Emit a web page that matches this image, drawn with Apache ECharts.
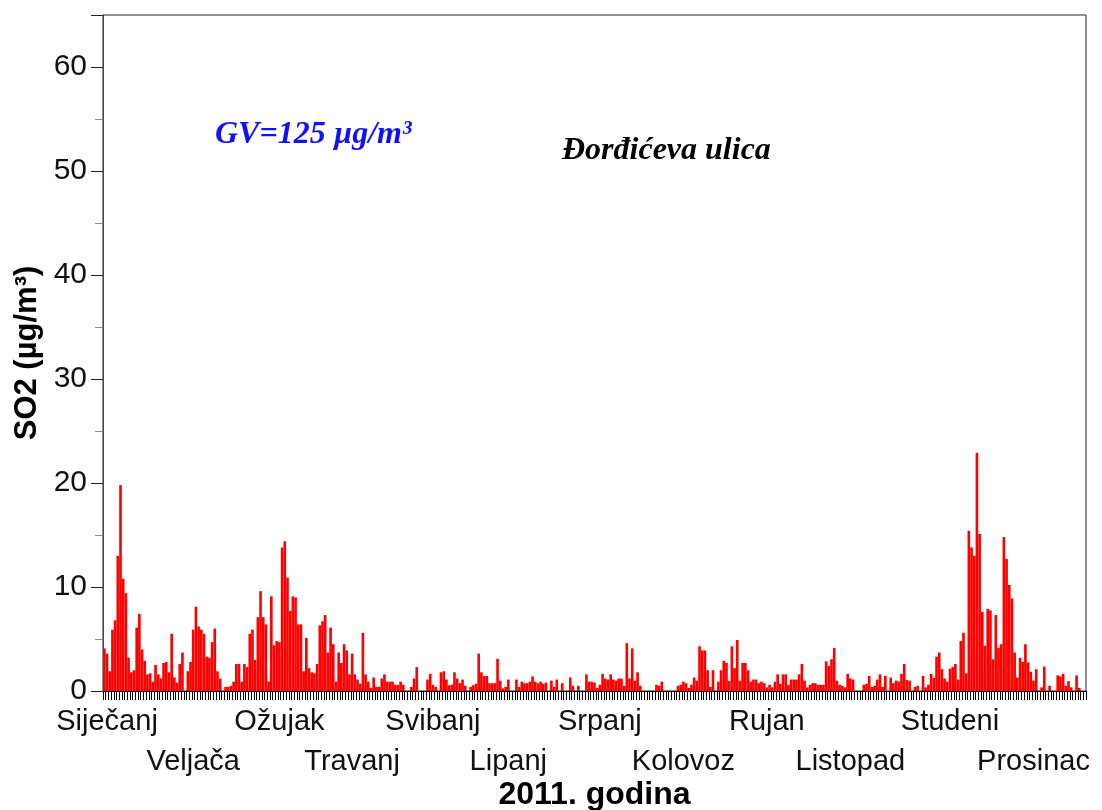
<!DOCTYPE html>
<html><head><meta charset="utf-8">
<script src="https://cdn.jsdelivr.net/npm/echarts@6/dist/echarts.min.js"></script>
<style>html,body{margin:0;padding:0;background:#fff}#c{width:1102px;height:810px}</style>
</head><body><div id="c"></div>
<script>
// Month tick labels (Croatian) and the day index each label is anchored to
const monthNames = ['Siječanj','Veljača','Ožujak','Travanj','Svibanj','Lipanj','Srpanj','Kolovoz','Rujan','Listopad','Studeni','Prosinac'];
const monthLabelDay = [1,33,65,92,122,150,184,215,246,277,314,345];
const yTicks = [0,10,20,30,40,50,60];

// Daily SO2 (µg/m³), 2011
const so2JanApr = [
 4.1,3.6,1.9,5.9,6.8,13.0,19.8,10.8,9.4,3.2,
 1.8,2.0,6.1,7.4,4.0,2.9,1.6,1.7,0.9,2.5,
 1.6,1.2,2.7,2.8,1.8,5.5,1.3,0.8,2.6,3.7,
 0,1.9,2.8,5.9,8.1,6.2,5.9,5.5,3.3,3.2,
 4.7,6.0,1.9,1.2,0,0.4,0.4,0.5,0.9,2.6,
 2.6,0.9,2.6,2.3,5.5,5.9,3.0,7.1,9.6,7.1,
 6.4,0.9,9.1,4.4,4.8,4.7,13.8,14.4,10.9,7.7,
 9.1,9.0,6.4,6.4,1.9,5.1,2.2,1.8,1.7,2.6,
 6.3,6.7,7.3,3.7,6.1,4.5,0.9,3.7,2.7,4.5,
 3.9,1.6,3.6,1.6,1.1,0.7,5.6,1.6,0.9,0.3,
 1.3,0.4,0.4,1.2,1.6,0.9,0.9,0.9,0.6,0.6,
 0.9,0.6,0,0,0.4,1.2,2.3,0,0,0,1.1
];
const so2MayAug = [
 1.65,0.6,0.4,0,1.8,1.9,1.1,0.55,0.6,1.8,
 1.2,0.75,1.1,0.5,0,0.4,0.55,0.7,3.6,1.8,
 1.45,1.45,0.75,0.75,0.75,3.1,1.0,0.25,0.4,1.1,
 0,0,1.1,0.4,0.9,0.75,0.75,0.9,1.4,0.9,
 0.75,0.9,0.7,0.8,0,1.0,0.4,1.1,0,0.75,
 0,0,1.3,0.5,0,0.5,0,0,1.6,0.9,
 0.9,0.8,0.3,0.6,1.65,1.2,1.1,1.6,1.1,1.0,
 1.2,1.2,0.5,4.6,1.2,4.1,1.0,1.8,0.5,0,
 0,0,0,0,0.6,0.5,0.9,0,0,0,
 0,0,0.5,0.6,0.9,0.75,0.3,0.6,1.3,1.0,
 4.3,3.9,3.9,2.0,0.4,2.0,0,0.9,2.0,2.9,
 2.7,0.95,4.3,2.2,4.9,1.0,2.7,2.7,2.0,0.9,
 1.1,1.1
];
const so2SepDec = [
 0.75,0.9,0.75,0.35,0.6,0.35,0.9,1.6,0.7,1.6,
 1.6,0.6,1.1,1.1,1.1,1.6,2.6,1.0,0.35,0.6,
 0.75,0.75,0.6,0.6,0.6,2.85,2.4,3.05,4.15,1.0,
 0.6,0.5,0.35,1.65,1.2,1.1,0,0,0,0.6,
 0.7,1.45,0.4,0.5,1.1,1.6,0.4,1.45,0,1.3,
 0.75,1.0,0.9,1.65,2.6,1.05,1.0,0,0.4,0.5,
 0,1.45,0.35,0.6,1.65,1.25,3.3,3.7,2.1,1.2,
 0.9,2.15,2.3,2.6,1.1,4.8,5.6,1.7,
 15.4,13.8,13.0,22.9,15.1,7.6,4.35,7.9,7.75,3.05,
 7.3,4.15,4.5,14.8,12.7,10.2,8.9,3.7,1.3,3.2,
 2.8,4.5,2.75,1.85,1.0,2.1,0,0.35,2.35,0,
 0.5,0,0,1.5,1.4,1.65,0.5,0.95,0.35,0,
 1.5,0.3,0,0
];

const so2 = so2JanApr.concat(so2MayAug, so2SepDec);
const days = so2.map((v, i) => {
  const d = new Date(Date.UTC(2011, 0, 1 + i));
  return d.toISOString().slice(0, 10);
});

// month label on row 0 (odd months) or row 1 (even months)
function monthLabelAxis(row, extra) {
  return Object.assign({
    type: 'category',
    data: days,
    boundaryGap: true,
    position: 'bottom',
    offset: 0,
    axisLine: {show: false},
    axisTick: {show: false},
    splitLine: {show: false},
    axisLabel: {
      interval: (idx) => {
        const k = monthLabelDay.indexOf(idx);
        return k >= 0 && k % 2 === row;
      },
      formatter: (val, idx) => {
        const k = monthLabelDay.indexOf(idx);
        return (k >= 0 && k % 2 === row) ? monthNames[k] : '';
      },
      hideOverlap: false, showMinLabel: true, showMaxLabel: true,
      fontSize: 29, color: '#111', lineHeight: 40, margin: row === 0 ? 11 : 51
    }
  }, extra || {});
}

const chart = echarts.init(document.getElementById('c'), null, {renderer: 'canvas'});
chart.setOption({
  animation: false,
  backgroundColor: '#fff',
  textStyle: {fontFamily: 'Liberation Sans, Arial, sans-serif'},
  title: [
    {text: 'GV=125 µg/m³', left: 210, top: 114,
     textStyle: {fontFamily: 'Liberation Serif, Times New Roman, serif', fontStyle: 'italic', fontWeight: 'bold', fontSize: 32, color: '#1010ff'}},
    {text: 'Đorđićeva ulica', left: 557, top: 130,
     textStyle: {fontFamily: 'Liberation Serif, Times New Roman, serif', fontStyle: 'italic', fontWeight: 'bold', fontSize: 32, color: '#000'}}
  ],
  grid: {left: 103, right: 16, top: 15, bottom: 119, containLabel: false, outerBoundsMode: 'none',
         show: true, borderColor: '#222', borderWidth: 1, backgroundColor: 'transparent'},
  xAxis: [
    monthLabelAxis(0, {
      name: '2011. godina',
      nameLocation: 'middle',
      nameGap: 88,
      nameTextStyle: {fontSize: 32, fontWeight: 'bold', color: '#000'},
      axisLine: {show: true, lineStyle: {color: '#111', width: 1}},
      axisTick: {show: true, interval: 0, length: 9, lineStyle: {color: '#000', width: 1}}
    }),
    monthLabelAxis(1)
  ],
  yAxis: {
    type: 'value',
    min: 0, max: 65, interval: 10,
    name: 'SO2 (µg/m³)',
    nameLocation: 'middle',
    nameGap: 59,
    nameTextStyle: {fontSize: 31, fontWeight: 'bold', color: '#000'},
    axisLine: {show: true, lineStyle: {color: '#444', width: 1}},
    axisTick: {show: true, length: 12, lineStyle: {color: '#222'}},
    minorTick: {show: true, splitNumber: 2, length: 8, lineStyle: {color: '#888'}},
    axisLabel: {fontSize: 30, color: '#111', margin: 16, showMaxLabel: false, hideOverlap: false,
      formatter: (v) => yTicks.indexOf(v) >= 0 ? String(v) : ''},
    splitLine: {show: false}
  },
  series: [{
    type: 'bar',
    xAxisIndex: 0,
    data: so2,
    barCategoryGap: '2%',
    itemStyle: {color: '#ff0000'},
    silent: true
  }]
});
</script>
</body></html>
